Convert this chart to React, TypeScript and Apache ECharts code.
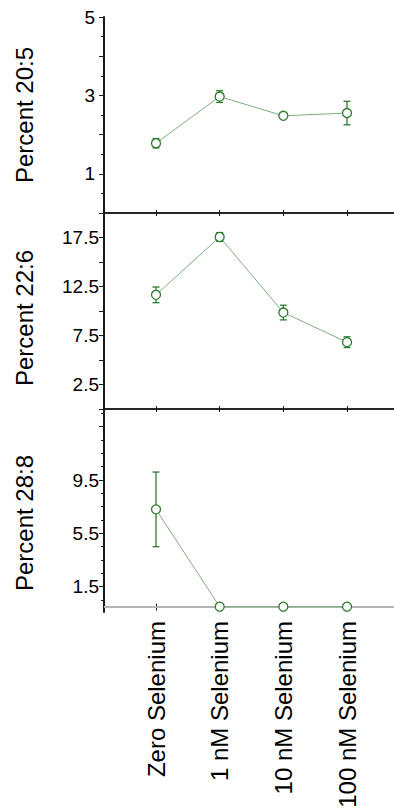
import React, { useEffect, useRef } from "react";
import * as echarts from "echarts";

const categories = ["Zero Selenium", "1 nM Selenium", "10 nM Selenium", "100 nM Selenium"];
const xPositions = [1, 2, 3, 4];
const titles = ["Percent 20:5", "Percent 22:6", "Percent 28:8"];

const mean205 = [1.78, 2.97, 2.48, 2.55];
const err205 = [0.12, 0.15, 0.04, 0.3];
const mean226 = [11.65, 17.55, 9.84, 6.82];
const err226 = [0.8, 0.45, 0.75, 0.55];
const mean288 = [7.3, 0.0, 0.0, 0.0];
const err288 = [2.8, 0, 0, 0];

const labels205 = [1, 3, 5];
const labels226 = [2.5, 7.5, 12.5, 17.5];
const labels288 = [1.5, 5.5, 9.5];
const longTicks288 = [1.5, 5.5, 9.5, 13.5];
const shortTicks288 = [0.5, 1.5, 2.5, 3.5, 4.5, 5.5, 6.5, 7.5, 8.5, 9.5, 10.5, 11.5, 12.5, 13.5, 14.5];

const FONT = "'Liberation Sans', Arial, Helvetica, sans-serif";
const GREEN = "#2e7d2e";
const LINE_GREEN = "#7daf7d";
const AXIS = "#1a1a1a";

const X_MIN = 0.183;
const X_MAX = 4.738;

function App() {
  const ref = useRef<HTMLDivElement>(null);

  useEffect(() => {
    if (!ref.current) return;
    const chart = echarts.init(ref.current, null, { renderer: "svg" });

    const grids = [
      { left: 104, width: 290, top: 17, height: 196, outerBoundsMode: "none", containLabel: false },
      { left: 104, width: 290, top: 213, height: 196, outerBoundsMode: "none", containLabel: false },
      { left: 104, width: 290, top: 409, height: 203, outerBoundsMode: "none", containLabel: false },
    ];

    const xTop = (g: number) => ({
      type: "value",
      gridIndex: g,
      position: "top",
      min: X_MIN,
      max: X_MAX,
      axisLine: { show: true, lineStyle: { color: AXIS, width: 1.5 } },
      axisTick: { show: true, customValues: xPositions, length: 3, inside: false, lineStyle: { color: AXIS, width: 1 } },
      axisLabel: { show: false },
      splitLine: { show: false },
    });
    const xBottom = (g: number, labels: boolean) => ({
      type: "value",
      gridIndex: g,
      position: "bottom",
      min: X_MIN,
      max: X_MAX,
      axisLine: { show: true, lineStyle: { color: AXIS, width: 1.5 } },
      axisTick: { show: true, customValues: xPositions, length: labels ? 4 : 3, lineStyle: { color: AXIS, width: 1 } },
      axisLabel: labels
        ? {
            show: true,
            customValues: xPositions,
            rotate: 90,
            margin: 9,
            fontSize: 24,
            fontFamily: FONT,
            color: "#000",
            formatter: (v: number) => categories[Math.round(v) - 1] ?? "",
          }
        : { show: false },
      splitLine: { show: false },
    });

    const yCommon = {
      type: "value",
      position: "left",
      axisLine: { show: true, lineStyle: { color: AXIS, width: 2 } },
      splitLine: { show: false },
    };

    const makeErr = (means: number[], errs: number[], g: number) => ({
      type: "custom",
      xAxisIndex: g * 2 + 1,
      yAxisIndex: g === 2 ? 2 : g,
      z: 2,
      silent: true,
      data: means.map((m, i) => [xPositions[i], m - errs[i], m + errs[i]]),
      renderItem: (params: any, api: any) => {
        const x = api.value(0);
        const lo = api.coord([x, api.value(1)]);
        const hi = api.coord([x, api.value(2)]);
        const hw = 3.5;
        const style = { stroke: GREEN, lineWidth: 1.3 };
        return {
          type: "group",
          children: [
            { type: "line", shape: { x1: lo[0], y1: lo[1], x2: hi[0], y2: hi[1] }, style },
            { type: "line", shape: { x1: hi[0] - hw, y1: hi[1], x2: hi[0] + hw, y2: hi[1] }, style },
            { type: "line", shape: { x1: lo[0] - hw, y1: lo[1], x2: lo[0] + hw, y2: lo[1] }, style },
          ],
        };
      },
    });

    const makeLine = (means: number[], g: number, extra: any = {}) => ({
      type: "line",
      xAxisIndex: g * 2 + 1,
      yAxisIndex: g === 2 ? 2 : g,
      z: 3,
      silent: true,
      data: means.map((m, i) => [xPositions[i], m]),
      symbol: "circle",
      symbolSize: 9,
      showSymbol: true,
      lineStyle: { color: LINE_GREEN, width: 1 },
      itemStyle: { color: "#ffffff", borderColor: GREEN, borderWidth: 1.3 },
      ...extra,
    });

    const option: any = {
      animation: false,
      backgroundColor: "#ffffff",
      grid: grids,
      xAxis: [xTop(0), xBottom(0, false), xTop(1), xBottom(1, false), xTop(2), xBottom(2, true)],
      yAxis: [
        {
          ...yCommon,
          gridIndex: 0,
          min: 0,
          max: 5,
          interval: 1,
          axisTick: { show: true, length: 5, lineStyle: { color: AXIS, width: 1 } },
          minorTick: { show: true, splitNumber: 2, length: 3, lineStyle: { color: AXIS, width: 1 } },
          axisLabel: {
            show: true,
            margin: 9,
            fontSize: 19,
            fontFamily: FONT,
            color: "#000",
            formatter: (v: number) => (labels205.includes(v) ? String(v) : ""),
          },
        },
        {
          ...yCommon,
          gridIndex: 1,
          min: 0,
          max: 20,
          interval: 2.5,
          axisTick: { show: true, length: 5, lineStyle: { color: AXIS, width: 1 } },
          axisLabel: {
            show: true,
            margin: 5,
            fontSize: 19,
            fontFamily: FONT,
            color: "#000",
            formatter: (v: number) => (labels226.includes(v) ? v.toFixed(1) : ""),
          },
        },
        {
          ...yCommon,
          gridIndex: 2,
          min: -0.4,
          max: 14.83,
          axisTick: { show: true, customValues: shortTicks288, length: 3, lineStyle: { color: AXIS, width: 1 } },
          axisLabel: {
            show: true,
            customValues: labels288,
            margin: 5,
            fontSize: 19,
            fontFamily: FONT,
            color: "#000",
            formatter: (v: number) => v.toFixed(1),
          },
        },
        {
          type: "value",
          gridIndex: 2,
          position: "left",
          offset: 0,
          min: -0.4,
          max: 14.83,
          axisLine: { show: false },
          axisTick: { show: true, customValues: longTicks288, length: 5, lineStyle: { color: AXIS, width: 1 } },
          axisLabel: { show: false },
          splitLine: { show: false },
        },
      ],
      graphic: titles.map((t, i) => ({
        type: "text",
        x: 24,
        y: [115, 318, 523][i],
        rotation: Math.PI / 2,
        style: {
          text: t,
          fontSize: 24,
          fontFamily: FONT,
          fill: "#000",
          align: "center",
          verticalAlign: "middle",
        },
      })),
      series: [
        makeErr(mean205, err205, 0),
        makeLine(mean205, 0),
        makeErr(mean226, err226, 1),
        makeLine(mean226, 1),
        makeErr(mean288, err288, 2),
        makeLine(mean288, 2, {
          markLine: {
            silent: true,
            symbol: ["none", "none"],
            label: { show: false },
            lineStyle: { color: "#b5b5b5", width: 2, type: "solid" },
            data: [{ yAxis: 0 }],
            z: 1,
          },
        }),
      ],
    };

    chart.setOption(option);
    return () => chart.dispose();
  }, []);

  return (
    <div
      ref={ref}
      style={{ position: "absolute", left: 0, top: 0, width: 394, height: 810, background: "#fff" }}
    />
  );
}

export default App;
